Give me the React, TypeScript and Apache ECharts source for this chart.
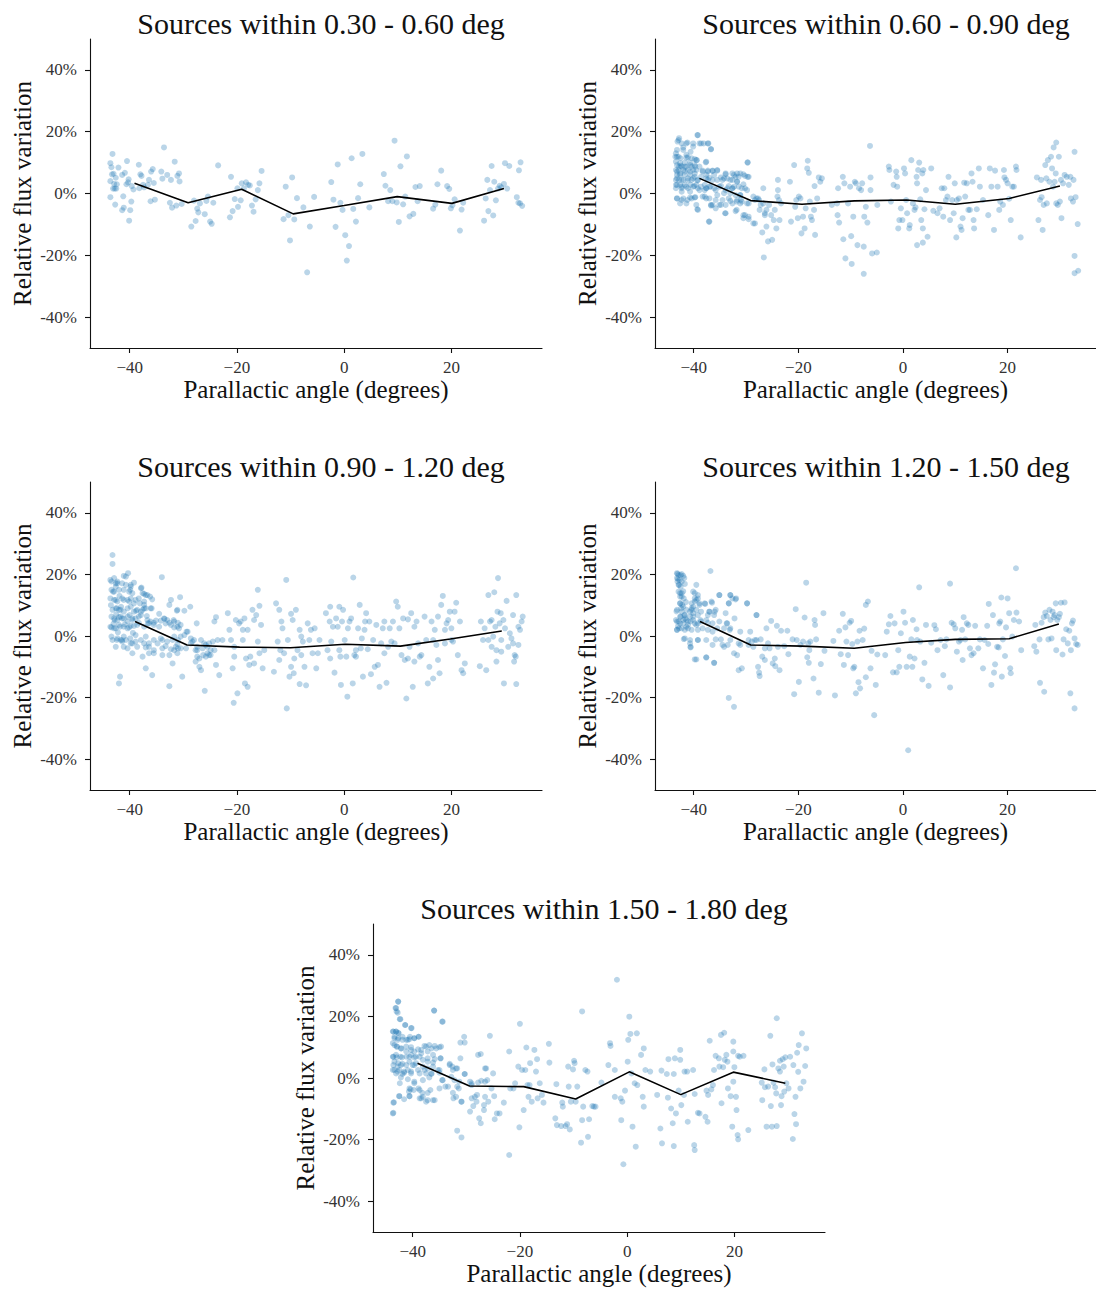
import React, { useEffect, useRef } from "react";
import * as echarts from "echarts";

const panelTitles = [
  "Sources within 0.30 - 0.60 deg",
  "Sources within 0.60 - 0.90 deg",
  "Sources within 0.90 - 1.20 deg",
  "Sources within 1.20 - 1.50 deg",
  "Sources within 1.50 - 1.80 deg",
];

const xTicks = [-40, -20, 0, 20];
const yTicks = [-40, -20, 0, 20, 40];
const xAxisName = "Parallactic angle (degrees)";
const yAxisName = "Relative flux variation";

// binned mean lines
const line1X = [-39.1, -29.1, -19.1, -9.5, 0, 9.9, 20.1, 29.8];
const line1Y = [3.3, -3.0, 1.4, -6.6, -3.9, -1.0, -3.2, 1.6];
const line2X = [-38.9, -29.1, -19.3, -9.3, 0.7, 10, 20.3, 30];
const line2Y = [4.9, -2.3, -3.5, -2.4, -2.1, -3.5, -1.6, 2.4];
const line3X = [-39, -29.3, -19.5, -10, 0.2, 10.5, 19.8, 29.4];
const line3Y = [4.7, -2.9, -3.6, -3.8, -2.7, -3.3, -1.0, 1.6];
const line4X = [-38.8, -29.1, -19.3, -9.3, 0.5, 10, 20.3, 29.8];
const line4Y = [4.7, -2.9, -3.3, -4.0, -2.1, -1.1, -0.9, 3.9];
const line5X = [-39.1, -29.4, -19.3, -9.6, 0.4, 10, 19.8, 29.5];
const line5Y = [4.8, -2.6, -2.8, -6.8, 2.0, -5.4, 1.9, -1.7];

// scatter points [parallactic angle, relative variation %]
const scatter1 = [
  [-43.6,9.8],[-43.2,12.8],[-43.4,8.5],[-43.6,4.0],[-43.3,6.2],[-43.0,6.4],[-43.1,1.6],[-42.8,1.6],[-42.5,1.6],[-42.9,3.1],
  [-42.4,3.0],[-42.6,5.1],[-42.1,8.4],[-43.6,-1.2],[-42.7,-3.6],[-41.4,6.0],[-41.2,-0.9],[-40.9,6.7],[-41.1,-4.6],[-41.4,-5.4],
  [-40.5,10.5],[-40.6,3.0],[-40.2,4.6],[-40.3,3.6],[-40.1,-8.8],[-39.9,-5.4],[-39.7,-2.6],[-39.6,2.4],[-39.3,1.3],[-38.3,9.3],
  [-38.2,1.7],[-38.0,6.2],[-37.8,5.7],[-37.5,2.8],[-37.3,2.0],[-36.6,2.8],[-36.4,4.4],[-36.1,-2.5],[-36.0,7.1],[-35.7,7.9],
  [-35.5,3.4],[-35.3,-2.0],[-34.1,7.1],[-33.9,4.8],[-33.6,14.9],[-33.0,6.0],[-32.5,-3.0],[-32.3,4.4],[-32.1,-4.6],[-31.6,10.3],
  [-31.3,-3.9],[-31.1,5.7],[-30.8,6.5],[-30.7,3.9],[-30.3,-3.4],[-28.5,-10.7],[-28.0,-2.3],[-27.7,-8.9],[-27.4,-4.9],[-27.2,-6.1],
  [-26.9,-3.2],[-26.0,-6.7],[-25.7,-2.4],[-25.4,-1.0],[-25.0,-9.1],[-24.7,-9.8],[-24.4,-3.0],[-23.5,9.1],[-21.3,-7.7],[-21.1,5.4],
  [-20.8,-5.7],[-20.4,-1.8],[-19.9,1.7],[-19.8,-4.3],[-19.3,-2.2],[-19.1,3.3],[-18.7,1.7],[-18.3,3.6],[-17.9,2.8],[-17.6,2.6],
  [-17.2,-3.9],[-16.9,-5.9],[-16.5,-1.9],[-16.1,1.1],[-15.8,3.3],[-15.4,7.3],[-11.3,-8.3],[-10.9,2.2],[-10.4,-7.0],[-10.1,-15.2],
  [-9.7,5.2],[-9.3,-8.4],[-8.8,-1.5],[-7.6,-4.5],[-6.9,-25.5],[-6.4,-10.7],[-5.6,-1.1],[-2.4,3.7],[-2.0,-2.0],[-1.6,-10.8],
  [-1.2,9.4],[-0.7,-3.0],[-0.3,-5.3],[0.2,-13.5],[0.5,-21.7],[0.9,-17.0],[1.4,11.4],[1.7,-5.0],[2.2,-9.1],[2.6,-1.5],
  [3.0,3.0],[3.4,12.8],[4.7,-4.5],[7.4,6.3],[7.7,2.5],[8.2,-2.5],[8.6,1.1],[9.0,-2.5],[9.4,17.1],[9.8,-2.9],
  [10.2,-9.2],[10.5,8.8],[11.0,-3.5],[11.4,-1.0],[11.7,12.0],[12.2,-7.4],[12.9,-6.6],[13.3,2.1],[13.7,-2.5],[14.1,2.4],
  [16.6,-4.9],[17.0,-3.6],[17.4,3.0],[18.1,7.4],[19.2,2.4],[19.6,1.5],[19.9,-4.8],[20.2,-3.8],[20.6,-1.9],[21.6,-12.0],
  [21.9,-5.2],[22.2,-3.0],[26.1,-8.8],[26.4,-1.6],[26.7,4.4],[26.9,-5.7],[27.2,1.1],[27.5,8.9],[27.8,-7.1],[28.0,3.8],
  [28.3,-2.2],[28.7,1.6],[29.0,2.5],[29.3,2.0],[29.8,3.1],[30.0,9.8],[30.4,1.6],[30.8,8.9],[32.2,-1.2],[32.5,-3.0],
  [32.6,7.5],[32.9,10.1],[33.2,-4.0],[32.8,-3.2],
];

const scatter2 = [
  [-42.8,17.9],[-43.1,16.8],[-39.3,18.9],[-41.2,16.5],[-40.1,16.2],[-38.9,16.2],[-38.1,16.2],[-37.2,16.2],[-36.7,14.3],[-42.0,14.9],
  [-43.4,13.0],[-43.5,11.9],[-42.9,11.9],[-41.4,12.5],[-41.1,11.7],[-39.8,11.1],[-39.4,10.8],[-43.4,10.3],[-42.6,9.8],[-41.7,10.0],
  [-40.7,10.0],[-42.8,8.7],[-42.3,8.7],[-41.4,8.7],[-40.4,8.7],[-39.7,8.7],[-37.7,10.1],[-43.4,7.6],[-42.9,7.6],[-42.0,7.6],
  [-41.1,7.6],[-40.1,7.6],[-39.5,7.6],[-38.3,7.4],[-37.3,7.4],[-36.4,7.4],[-35.5,7.4],[-33.9,6.5],[-32.6,6.5],[-31.7,6.5],
  [-31.1,6.5],[-30.2,5.7],[-29.5,5.4],[-43.2,6.0],[-42.6,6.0],[-41.7,6.0],[-40.7,6.0],[-39.8,5.4],[-38.6,5.4],[-37.6,6.0],
  [-36.1,6.0],[-34.8,5.2],[-33.6,4.9],[-32.0,5.4],[-43.4,4.4],[-42.8,4.4],[-42.0,4.4],[-41.1,4.2],[-40.4,4.4],[-39.3,4.2],
  [-37.3,4.4],[-36.4,4.4],[-34.5,4.4],[-32.6,4.4],[-31.7,3.8],[-43.4,2.8],[-42.6,2.8],[-41.7,2.8],[-40.6,2.8],[-39.9,2.4],
  [-38.6,2.2],[-37.6,1.7],[-36.8,2.2],[-35.1,2.2],[-33.3,2.4],[-32.3,2.2],[-43.4,1.7],[-42.3,1.7],[-41.1,1.7],[-39.2,1.7],
  [-37.9,1.1],[-35.8,1.1],[-33.9,1.1],[-32.6,1.7],[-30.8,1.7],[-43.2,-1.6],[-42.3,-2.1],[-41.2,-2.1],[-40.4,-1.6],[-39.7,-1.2],
  [-38.3,-1.0],[-37.6,-1.6],[-36.7,-3.7],[-35.8,-4.8],[-34.8,-3.7],[-34.0,-6.4],[-32.6,-3.2],[-31.8,-5.3],[-31.0,-2.1],[-30.5,-7.0],
  [-29.7,10.0],[-39.3,-5.1],[-37.1,-9.1],[-30.5,-8.0],[-29.5,-7.5],[-29.8,1.1],[-31.1,-0.5],[-33.3,-1.6],[-31.8,-2.6],[-35.5,-0.5],
  [-28.6,-9.7],[-28.3,-2.1],[-28.0,-1.6],[-27.5,-2.1],[-27.2,-3.7],[-26.9,-12.6],[-26.6,-20.7],[-26.4,-6.4],[-26.1,-5.3],[-25.8,-15.5],
  [-25.6,-3.7],[-25.2,-7.0],[-25.0,-15.0],[-24.7,-8.6],[-24.5,-5.3],[-24.2,-11.3],[-23.9,4.4],[-23.9,1.1],[-23.6,-8.6],[-24.0,-1.0],
  [-23.7,-2.1],[-23.3,-3.2],[-21.6,3.8],[-21.4,-9.1],[-20.8,9.2],[-20.6,-4.3],[-20.4,-2.1],[-20.1,-8.0],[-19.9,-1.0],[-19.6,-1.6],
  [-19.4,-12.9],[-19.1,-7.5],[-18.8,-11.3],[-18.6,-4.8],[-18.3,8.1],[-18.2,10.6],[-18.0,6.7],[-17.8,-2.6],[-17.6,-7.5],[-17.4,-8.6],
  [-17.0,-5.3],[-16.9,2.4],[-16.8,-13.4],[-16.4,-1.6],[-16.1,5.2],[-15.8,3.8],[-15.5,4.9],
  [-13.6,-3.7],[-12.6,-3.2],[-12.5,-7.0],[-12.4,1.7],[-12.2,-9.4],[-11.5,5.4],[-11.4,-14.8],[-11.2,3.3],[-11.0,-21.0],[-10.5,-3.2],
  [-10.1,2.2],[-9.9,-13.8],[-9.8,-22.8],[-9.5,-7.5],[-9.2,3.8],[-9.0,3.3],[-8.7,-16.7],[-8.4,1.7],[-8.0,1.1],[-7.8,3.3],
  [-7.5,-17.2],[-7.4,-7.5],[-7.1,-4.3],[-6.8,-9.4],[-6.3,15.4],[-6.2,5.2],[-6.2,1.1],[-5.9,-19.4],[-5.0,-19.1],[-4.9,-3.7],
  [-7.5,-26.0],
  [-2.7,8.7],[-2.6,7.6],[-2.3,-2.6],[-1.8,2.8],[-1.3,7.1],[-1.2,5.4],[-1.1,2.2],[-0.9,-11.3],[-0.7,-8.6],[-0.4,-4.8],
  [-0.1,-8.6],[0.2,8.1],[0.4,6.5],[0.6,-2.1],[0.8,-6.4],[1.2,-11.3],[1.3,-10.2],[1.6,10.8],[1.9,-3.2],[2.2,-5.3],
  [2.4,-4.5],[2.6,5.4],[2.7,3.3],[2.9,7.6],[3.1,10.0],[3.3,-1.9],[3.5,-8.6],[3.7,6.5],[3.8,-11.3],[3.9,7.6],
  [4.1,-5.1],[4.4,1.1],[4.7,-14.0],[5.4,8.1],[5.8,-5.6],[6.6,-6.4],[7.0,-4.8],[7.4,1.7],[7.7,-7.5],[7.9,1.7],
  [8.2,-2.1],[8.5,-1.0],[2.7,-16.7],[3.8,-15.9],
  [8.7,5.4],[9.0,-8.6],[9.4,-2.1],[9.7,-6.4],[9.9,3.3],[10.2,-14.2],[10.3,-2.1],[10.7,-1.6],[11.0,-10.7],[11.2,-11.8],
  [11.4,-8.0],[11.7,3.5],[11.9,-1.0],[12.2,3.3],[12.5,-5.3],[12.8,-5.3],[13.1,6.5],[13.3,3.8],[13.5,-8.6],[13.6,-11.3],
  [14.1,-5.1],[14.5,8.1],[14.7,2.2],[15.3,-2.1],[16.3,-7.0],[16.6,8.1],[16.9,2.2],[17.4,-11.8],[17.6,7.4],[18.1,2.2],
  [18.4,-5.3],[18.6,-2.6],[19.1,-3.7],[19.3,7.6],[19.4,5.2],[19.7,4.4],[20.0,3.3],[20.3,-1.7],[20.6,-8.6],[20.9,2.2],
  [21.2,2.2],[21.6,8.7],[21.7,7.6],[22.5,-14.2],
  [25.6,5.2],[25.9,-8.6],[26.2,-2.1],[26.4,4.4],[26.7,-11.8],[26.9,-3.7],[27.2,9.2],[27.4,4.9],[27.7,10.8],[28.0,3.8],
  [28.3,11.9],[28.5,8.1],[28.7,2.2],[29.0,3.8],[29.2,6.5],[29.3,16.5],[29.6,-3.7],[29.8,11.9],[30.0,-2.6],[30.2,4.4],
  [30.3,-8.0],[30.6,3.3],[30.9,6.0],[31.3,5.4],[31.7,2.8],[32.0,5.4],[32.1,-1.6],[32.5,-2.6],[32.6,4.4],[32.8,13.5],
  [32.8,-20.2],[32.8,-25.8],[33.4,-9.9],[33.5,-25.0],[33.0,-1.2],[27.5,-3.2],[29.3,-3.2],[26.5,-1.2],[28.8,14.9],
];

const scatter2Dense = [
  [-39.2,18.9],[-42.9,17.3],[-42.3,16.2],[-41.4,16.2],[-40.1,15.2],[-38.6,16.2],[-37.3,16.2],[-36.7,14.4],[-43.2,14.1],[-42.0,14.1],
  [-40.6,13.5],[-43.2,11.9],[-42.5,11.4],[-41.4,11.6],[-40.4,11.4],[-39.5,10.8],[-43.2,9.2],[-42.5,9.0],[-41.7,8.7],[-40.7,9.2],
  [-39.8,9.2],[-38.9,8.7],[-37.6,10.3],[-29.7,10.1],[-43.2,7.1],[-42.6,6.5],[-41.7,7.1],[-40.7,7.1],[-39.8,6.5],[-38.3,7.1],
  [-37.3,7.1],[-36.4,7.3],[-35.5,7.6],[-33.9,6.2],[-32.3,6.0],[-31.4,5.4],[-30.5,6.2],[-29.7,5.4],[-43.2,4.9],[-42.3,4.4],
  [-41.1,4.9],[-40.1,4.9],[-39.2,4.4],[-37.6,4.9],[-37.0,5.1],[-35.5,4.4],[-34.2,4.9],[-33.0,4.4],[-31.7,3.8],[-30.5,3.0],
  [-43.2,2.8],[-42.3,2.2],[-41.4,2.2],[-40.1,2.2],[-39.5,2.8],[-37.9,2.8],[-37.0,2.2],[-36.1,1.7],[-34.8,2.5],[-33.6,1.7],
  [-32.6,1.7],[-31.4,2.2],[-30.2,1.7],[-26.7,1.7],[-42.3,0.6],[-40.7,0.6],[-38.9,1.1],[-37.6,1.7],[-34.2,0.1],[-33.0,0.1],
  [-32.0,-0.5],[-31.1,-0.5],[-43.2,-1.6],[-42.0,-1.6],[-40.7,-1.3],[-39.8,-1.3],[-37.9,-1.0],[-37.0,-1.6],[-35.8,-2.1],[-34.5,-2.1],
  [-33.0,-2.4],[-31.7,-2.1],[-30.8,-2.6],[-29.8,-3.2],[-28.6,-1.0],[-27.7,-1.6],[-42.6,-3.2],[-41.4,-3.2],[-39.5,-3.7],[-36.4,-3.7],
  [-35.1,-3.7],[-33.9,-3.7],[-31.1,-3.2],[-29.5,-3.2],[-26.7,-3.2],[-39.2,-5.3],[-36.7,-3.9],[-33.9,-6.4],[-32.0,-5.7],[-30.2,-7.0],
  [-29.5,-8.3],[-37.0,-9.1],[-28.3,-9.7],[-27.4,-5.3],[-26.4,-7.0],[-26.1,-10.7],
];

const scatter3 = [
  [-43.2,26.3],[-43.2,23.4],[-41.8,-13.2],[-42.0,-15.4],[-40.3,20.4],[-40.7,19.3],[-42.9,18.8],[-43.6,18.2],[-42.6,17.1],[-42.3,17.7],
  [-41.4,17.1],[-40.7,16.6],[-39.8,16.0],[-39.2,17.3],[-37.9,15.5],[-43.4,15.0],[-42.9,14.4],[-42.0,15.0],[-41.1,15.0],[-40.1,14.4],
  [-39.5,13.9],[-37.6,13.9],[-37.0,13.3],[-36.2,12.8],[-35.8,11.9],[-43.6,12.2],[-42.9,11.7],[-42.3,11.2],[-41.4,12.2],[-40.4,11.7],
  [-39.8,12.2],[-38.9,11.7],[-38.3,12.2],[-37.3,11.2],[-32.3,11.7],[-30.6,12.6],[-34.0,19.1],[-43.2,8.5],[-42.6,9.0],[-42.0,8.5],
  [-41.1,7.9],[-40.4,9.0],[-39.8,9.5],[-39.2,7.9],[-37.6,8.5],[-37.0,9.0],[-36.1,9.0],[-32.6,10.1],[-31.1,8.5],[-29.8,8.2],
  [-28.7,9.5],[-43.4,6.3],[-42.9,5.7],[-42.3,5.2],[-41.7,6.3],[-41.1,5.7],[-40.4,4.7],[-39.5,5.2],[-38.9,5.7],[-38.3,6.3],
  [-36.7,5.2],[-36.1,4.7],[-35.1,5.0],[-33.6,5.7],[-33.0,5.2],[-31.7,4.7],[-31.1,3.0],[-30.5,3.6],[-43.6,3.0],[-42.9,2.5],
  [-42.0,3.6],[-41.1,3.0],[-40.4,2.5],[-39.8,3.3],[-38.6,3.6],[-37.3,3.0],[-36.4,4.1],[-35.5,3.6],[-34.5,3.0],[-33.3,4.1],
  [-32.3,3.6],[-30.8,2.5],[-29.4,1.4],[-43.2,-1.3],[-42.4,-1.3],[-41.7,-1.3],[-40.7,-1.3],[-39.8,-2.4],[-38.9,-1.8],[-37.9,-1.3],
  [-37.3,-2.4],[-36.4,-3.5],[-35.5,-1.3],[-34.8,-2.4],[-33.9,-1.3],[-33.0,-1.8],[-32.0,-1.3],[-31.4,-3.5],[-30.5,-4.0],[-42.6,-3.5],
  [-41.1,-3.5],[-39.5,-5.6],[-37.6,-6.7],[-36.4,-5.6],[-35.5,-5.6],[-33.9,-6.2],[-32.6,-6.2],[-32.0,-8.9],[-31.1,-5.6],[-30.2,-13.2],
  [-32.6,-16.3],[-37.0,-10.5],[-35.8,-12.7],[-41.4,-1.3],[-30.5,-0.2],
  [-43.0,4.0],[-42.5,7.0],[-42.2,1.2],[-41.6,9.5],[-40.9,3.8],[-40.0,6.8],[-39.4,1.0],[-38.8,8.2],[-43.5,10.0],[-41.9,13.0],
  [-28.6,-2.4],[-28.0,-1.3],[-27.7,-4.6],[-27.4,-6.7],[-27.0,-10.0],[-26.7,-11.1],[-26.4,-4.0],[-26.1,-2.4],[-25.8,-6.7],[-25.5,-3.5],
  [-25.2,-6.2],[-24.9,-4.6],[-24.5,-1.8],[-24.2,-4.6],[-23.9,-9.4],[-23.6,-1.3],[-27.5,4.1],[-26.0,-17.8],[-23.3,-12.7],[-22.7,-1.3],
  [-24.2,4.7],[-23.9,6.1],[-21.7,7.4],[-21.4,2.0],[-21.1,-1.3],[-20.8,-10.5],[-20.5,-6.7],[-20.2,5.2],[-19.9,-18.6],[-19.6,4.1],
  [-19.3,4.7],[-18.9,-1.3],[-18.6,5.7],[-18.5,-15.4],[-18.3,-7.3],[-18.0,-16.5],[-17.7,-9.4],[-17.5,-6.7],[-17.1,8.5],[-16.8,5.2],
  [-16.4,6.8],[-16.1,15.0],[-16.1,-1.8],[-15.8,9.8],[-15.5,3.6],[-15.2,-10.5],[-14.9,-4.6],[-18.0,2.0],[-18.9,2.0],[-20.6,-21.7],
  [-20.5,-3.5],[-15.8,-5.6],[-16.8,-8.9],
  [-13.1,-11.6],[-12.7,10.6],[-12.4,-1.8],[-12.1,8.5],[-11.9,-4.6],[-11.7,4.7],[-11.5,2.5],[-11.2,-5.6],[-10.8,18.2],[-10.7,-23.5],
  [-10.5,-1.3],[-10.2,-13.2],[-9.9,7.2],[-9.6,5.2],[-9.4,-12.1],[-9.0,8.5],[-8.7,-4.6],[-8.3,2.0],[-8.3,-15.6],[-8.0,-6.2],
  [-7.7,-1.8],[-7.4,-10.0],[-7.1,-16.0],[-6.8,4.1],[-6.5,-1.3],[-6.2,2.0],[-5.9,-5.6],[-5.5,2.5],[-5.2,-10.5],[-4.9,-5.6],
  [-4.6,-1.3],[-12.1,-7.8],[-9.3,-7.3],[-9.9,-10.0],[-8.0,-0.2],
  [-3.4,7.4],[-3.1,-4.6],[-2.7,4.7],[-2.6,-7.3],[-2.4,-1.8],[-2.1,3.0],[-1.8,-11.9],[-1.5,5.7],[-1.2,3.0],[-0.9,9.5],
  [-0.7,-6.7],[-0.6,-15.9],[-0.4,4.7],[-0.2,8.5],[0.1,-1.3],[0.4,-6.7],[0.6,-19.7],[0.7,2.5],[1.0,4.7],[1.3,5.7],
  [1.6,-15.4],[1.7,19.0],[1.9,-6.2],[2.2,-6.7],[2.6,2.5],[2.9,10.1],[3.1,-4.0],[3.3,-0.8],[3.5,-13.2],[3.8,2.0],
  [4.1,7.4],[4.4,-4.3],[4.7,4.7],[5.0,-12.4],[5.4,-1.3],[5.7,-10.0],[6.0,3.6],[6.6,-16.5],[6.9,-2.4],[7.2,2.5],
  [7.5,4.7],[7.9,-15.2],[8.2,-3.5],[8.5,2.5],[8.8,-1.8],[-2.6,9.5],[-0.9,-4.6],[2.2,-4.6],[3.9,4.7],[6.3,-9.4],
  [7.5,-5.6],
  [9.1,4.7],[9.4,-2.4],[9.7,11.2],[10.0,9.5],[10.3,2.5],[10.7,-6.2],[11.0,5.7],[11.3,-7.8],[11.6,-20.3],[11.9,-7.3],
  [12.2,-3.5],[12.5,7.4],[12.8,-16.5],[13.1,-8.3],[13.5,4.7],[13.8,-2.4],[14.1,-6.7],[14.4,-6.2],[15.0,6.3],[15.3,-1.3],
  [15.6,-15.4],[15.9,-10.0],[16.3,4.7],[16.6,-13.8],[16.9,2.0],[17.2,-2.9],[17.5,-7.8],[17.8,-12.1],[18.1,10.1],[18.4,13.0],
  [18.8,-2.4],[19.1,4.1],[19.4,5.2],[19.7,7.9],[20.0,2.5],[20.3,-1.8],[20.6,7.9],[20.9,10.8],[21.2,-6.2],[21.6,4.7],
  [21.9,-11.1],[22.2,-12.1],[22.5,-8.9],[18.8,2.0],[17.5,6.3],[16.6,-1.3],[11.9,5.4],[13.1,3.0],[20.0,-1.3],
  [25.3,-9.8],[25.5,4.7],[25.9,-1.3],[26.2,2.5],[26.5,-11.1],[26.9,13.3],[27.2,4.7],[27.5,-3.5],[27.8,-0.2],[28.0,14.2],
  [28.2,3.0],[28.4,-8.3],[28.6,7.9],[28.7,18.8],[29.0,4.1],[29.2,7.4],[29.3,-5.1],[29.7,5.2],[29.8,-15.4],[30.0,2.5],
  [30.3,11.4],[30.6,-3.5],[30.9,0.9],[31.2,-0.8],[31.5,-2.4],[31.7,-8.3],[31.8,-6.2],[32.0,-6.7],[32.1,13.3],[32.1,-15.6],
  [32.5,3.0],[32.8,2.0],[33.1,4.7],[33.3,6.3],[32.5,-2.9],[31.5,6.8],[27.5,5.2],[28.4,-4.6],[29.3,-1.3],[26.9,-1.3],
];

const scatter3Dense = [
  [-41.1,19.5],[-43.4,17.7],[-42.3,17.1],[-42.6,16.0],[-39.8,16.6],[-37.8,15.7],[-43.1,14.4],[-39.9,15.0],[-37.3,13.7],[-36.7,13.3],
  [-42.6,11.7],[-41.1,11.7],[-40.1,11.2],[-39.2,10.6],[-38.1,10.6],[-37.3,10.1],[-42.4,9.0],[-41.7,8.5],[-38.6,8.5],[-37.9,7.9],
  [-37.3,9.0],[-35.9,9.0],[-31.2,8.2],[-42.8,5.2],[-42.0,6.1],[-41.4,5.7],[-40.4,6.3],[-39.5,5.7],[-37.9,6.8],[-36.8,6.5],
  [-34.5,7.2],[-33.5,5.6],[-31.8,5.2],[-31.0,4.3],[-43.4,2.8],[-42.6,2.5],[-41.8,3.0],[-40.1,2.8],[-39.2,3.3],[-38.3,4.3],
  [-36.6,4.1],[-35.5,4.3],[-34.2,5.0],[-32.6,4.3],[-31.7,2.8],[-29.2,1.4],[-43.4,-0.2],[-42.3,-0.8],[-41.1,-0.2],[-39.9,-0.8],
  [-38.9,0.3],[-37.0,-0.2],[-34.2,-0.8],[-31.7,-0.2],[-31.0,-1.3],[-29.8,0.3],[-28.6,-0.8],[-41.4,-1.8],[-39.5,-2.4],[-36.4,-2.4],
  [-33.3,-3.3],[-31.1,-2.6],[-32.3,-4.3],[-31.0,-4.0],[-29.5,-4.0],[-27.4,-3.5],[-40.4,-4.0],[-38.6,-3.5],[-37.0,-3.7],[-35.5,-4.6],
  [-33.9,-4.0],[-31.7,-4.6],[-28.3,-1.8],[-26.7,-1.3],[-25.8,-2.9],[-26.3,-6.2],[-25.5,-5.6],[-27.4,-4.6],[-24.9,-6.2],[-27.0,-7.3],
  [-27.7,-8.3],[-25.2,-2.4],
];

const scatter4 = [
  [-43.2,20.4],[-42.9,19.8],[-42.3,20.1],[-41.8,18.8],[-43.1,17.7],[-42.8,16.6],[-42.6,13.9],[-42.3,12.8],[-42.6,10.6],[-42.4,9.0],
  [-42.2,10.1],[-43.4,5.2],[-42.9,4.7],[-43.2,2.0],[-42.8,2.5],[-42.0,4.1],[-41.4,5.2],[-41.1,3.6],[-40.6,4.7],[-40.1,6.3],
  [-39.8,4.1],[-39.5,3.6],[-41.7,2.0],[-41.1,2.5],[-40.4,8.5],[-40.1,9.5],[-39.5,11.7],[-39.8,13.9],[-38.9,10.6],[-39.2,12.2],
  [-40.7,7.9],[-41.8,6.8],[-41.6,5.7],[-41.9,-1.0],[-40.7,-2.4],[-40.6,-3.5],[-39.5,-7.6],[-39.2,-1.3],[-38.7,5.2],[-37.8,10.4],
  [-37.6,-6.9],[-37.3,4.3],[-37.0,7.9],[-36.8,21.1],[-36.6,11.2],[-36.4,1.4],[-36.1,-8.7],[-36.0,7.9],[-35.8,-1.1],[-35.1,13.3],
  [-34.8,-1.1],[-34.2,-3.5],[-33.7,4.1],[-33.5,-2.9],[-33.3,10.6],[-33.0,13.3],[-33.1,2.0],[-32.6,12.2],[-32.2,5.7],[-32.3,-5.6],
  [-32.0,11.9],[-31.7,-6.2],[-33.3,-20.1],[-32.3,-23.0],[-31.4,-11.1],[-31.1,-2.9],[-30.8,-10.5],[-29.8,10.6],[-29.5,-1.3],[-28.9,-1.8],
  [-28.6,-3.5],[-28.3,-1.3],[-43.0,3.2],[-42.5,6.2],[-43.3,8.0],[-42.0,14.5],[-43.0,18.5],[-41.5,11.0],
  [-28.0,6.8],[-27.7,-10.0],[-27.5,-11.9],[-27.4,-13.0],[-27.2,-1.1],[-26.9,-6.7],[-26.4,-7.8],[-26.1,2.5],[-25.8,-2.4],[-25.5,-4.0],
  [-25.2,4.9],[-24.9,-8.9],[-24.5,-7.3],[-24.4,-9.8],[-24.1,3.3],[-23.9,-3.5],[-23.6,-11.1],[-23.3,1.7],[-22.1,1.7],[-22.7,-3.3],
  [-21.9,-5.9],[-21.1,-1.1],[-20.8,-18.9],[-20.5,8.7],[-20.3,-1.3],[-19.9,-14.9],[-19.6,-2.9],[-19.1,-1.8],[-18.8,6.0],[-18.5,17.3],
  [-18.3,-6.9],[-18.1,-2.4],[-18.0,-8.7],[-17.9,-4.6],[-17.7,-1.8],[-17.1,-13.8],[-16.9,5.2],[-16.8,3.6],[-16.6,-1.1],[-16.1,-18.4],
  [-15.7,-9.1],[-15.2,7.4],[-15.0,-4.8],
  [-13.3,-1.6],[-13.0,-19.3],[-12.2,1.7],[-11.9,-5.9],[-11.5,7.2],[-11.3,-9.4],[-11.0,2.8],[-10.8,-1.8],[-10.5,-6.2],[-10.2,4.3],
  [-9.9,4.9],[-9.7,-2.6],[-9.5,-10.5],[-9.3,-10.0],[-9.0,-18.6],[-8.7,-1.8],[-8.5,-15.0],[-8.3,1.7],[-8.2,-17.0],[-7.7,-1.3],
  [-7.4,2.4],[-7.1,10.1],[-7.1,-13.4],[-6.7,11.2],[-6.2,-10.5],[-6.0,-4.8],[-5.5,-25.7],[-5.2,-15.9],[-4.9,-6.0],
  [-3.4,-6.2],[-3.1,1.4],[-2.7,3.8],[-2.4,6.5],[-1.9,-11.8],[-1.6,4.1],[-1.2,-11.8],[-0.9,-4.6],[-0.7,-10.0],[-0.4,0.9],
  [0.1,7.9],[0.4,4.3],[0.7,-10.0],[1.0,-37.1],[1.3,-6.7],[1.6,-1.1],[1.8,-10.0],[1.9,5.2],[2.2,-7.3],[2.6,2.2],
  [2.7,-1.3],[3.1,15.8],[3.3,-1.8],[3.7,-14.1],[4.1,-8.7],[4.4,3.6],[4.9,-16.2],[5.4,-2.2],[6.0,3.5],[6.3,2.2],
  [6.6,-4.6],[7.2,-1.3],[7.7,-12.7],[8.0,-3.3],[8.3,-1.1],[9.0,17.0],[9.0,-16.7],[9.3,4.3],[9.7,3.8],[10.0,2.5],
  [10.3,-5.1],[10.7,-1.8],[11.0,-1.3],[11.3,2.0],[11.4,-7.8],[11.6,6.1],[11.9,-1.1],
  [12.2,4.1],[12.5,3.6],[12.8,-4.0],[13.1,-6.2],[13.5,-5.6],[13.8,3.3],[14.4,-4.0],[14.7,-1.1],[15.3,-10.5],[15.6,-1.3],
  [16.1,3.3],[16.3,-2.6],[16.4,10.4],[16.9,-15.9],[17.2,6.8],[17.4,-11.9],[17.6,-9.2],[18.0,-3.5],[18.3,-3.7],[18.4,4.1],
  [18.6,4.7],[18.8,12.5],[18.9,-13.2],[19.1,-1.1],[19.5,-6.5],[19.7,2.8],[20.0,12.2],[20.3,7.4],[20.5,-10.5],[20.6,-12.1],
  [20.9,-0.2],[21.2,5.2],[21.6,22.0],[21.7,7.6],[22.2,4.7],[22.6,-4.6],
  [25.1,-3.3],[25.3,3.6],[25.5,-5.1],[26.1,-1.1],[26.2,-15.2],[26.5,4.3],[26.9,6.1],[27.0,-18.1],[27.2,7.6],[27.5,6.5],
  [27.8,-1.1],[28.0,8.5],[28.2,5.2],[28.4,-0.8],[28.6,7.9],[28.8,6.1],[29.0,6.8],[29.2,10.6],[29.3,-4.6],[29.5,5.2],
  [29.8,6.1],[30.0,7.2],[30.2,10.8],[30.5,-6.0],[30.7,-1.1],[30.9,10.9],[31.2,2.2],[31.5,-2.4],[31.8,1.7],[32.1,-4.6],
  [32.3,4.1],[32.5,5.0],[32.8,-23.5],[32.8,-0.8],[33.1,-2.6],[33.4,-2.9],[32.0,-18.6],
];

const scatter4Dense = [
  [-43.1,20.2],[-42.5,19.8],[-42.0,19.5],[-43.2,18.8],[-42.7,18.2],[-42.3,17.7],[-42.9,16.6],[-42.5,16.0],[-41.7,16.9],[-42.9,14.4],
  [-42.3,13.9],[-42.6,12.8],[-41.9,12.2],[-40.1,14.4],[-39.5,16.6],[-39.2,13.3],[-39.8,12.2],[-35.1,13.3],[-33.0,13.3],[-31.9,12.2],
  [-42.6,10.6],[-42.0,9.5],[-40.4,10.6],[-39.8,11.2],[-38.9,10.1],[-37.9,10.6],[-36.5,10.8],[-33.3,10.6],[-29.8,10.6],[-43.2,8.5],
  [-42.3,7.9],[-41.4,8.5],[-40.4,9.0],[-39.5,8.5],[-38.6,7.9],[-37.0,7.9],[-35.8,8.5],[-42.6,6.3],[-41.7,6.8],[-40.7,6.3],
  [-40.1,7.4],[-39.2,6.8],[-37.3,6.8],[-36.1,6.8],[-33.9,7.4],[-28.0,6.8],[-43.2,4.7],[-42.6,4.1],[-42.0,5.2],[-41.1,4.7],
  [-40.1,5.2],[-39.2,4.1],[-38.6,4.7],[-37.6,5.2],[-36.4,4.1],[-35.1,4.7],[-33.6,4.1],[-43.2,2.0],[-42.3,2.5],[-41.4,3.0],
  [-40.4,2.0],[-39.2,2.0],[-38.3,2.5],[-37.3,2.0],[-35.5,2.5],[-34.2,2.5],[-33.0,2.5],[-31.1,1.4],[-29.2,1.4],[-41.7,-0.8],
  [-40.7,-1.3],[-39.2,-1.3],[-37.6,-1.3],[-36.4,-2.9],[-34.5,-2.9],[-33.0,-1.3],[-31.4,-2.4],[-29.5,-2.9],[-28.0,-1.3],[-26.4,-4.0],
  [-40.6,-3.7],[-39.8,-7.6],[-37.6,-7.0],[-36.1,-8.7],
];

const scatter5 = [
  [-42.7,24.8],[-43.2,22.7],[-43.0,21.6],[-42.4,19.1],[-41.4,17.2],[-40.2,16.2],[-43.6,15.1],[-43.1,15.1],[-42.6,14.5],[-41.9,12.4],
  [-43.4,12.9],[-42.8,12.4],[-40.9,12.4],[-40.5,13.4],[-39.7,12.9],[-38.9,13.4],[-36.0,21.9],[-34.4,18.3],[-43.7,11.3],[-43.0,10.2],
  [-42.2,9.6],[-41.2,8.6],[-40.3,9.1],[-39.7,8.6],[-38.4,9.1],[-37.5,10.2],[-36.5,9.6],[-35.6,9.6],[-34.7,10.2],[-43.6,6.9],
  [-43.0,6.7],[-42.0,6.7],[-40.6,6.9],[-39.7,6.7],[-38.7,6.9],[-37.2,6.4],[-35.9,6.1],[-34.8,6.4],[-43.6,4.2],[-42.8,3.7],
  [-42.2,4.2],[-41.2,4.2],[-40.0,4.2],[-39.4,4.8],[-38.1,3.7],[-37.2,3.1],[-36.2,3.7],[-35.0,2.6],[-43.4,2.6],[-42.5,2.6],
  [-41.6,2.1],[-40.3,1.5],[-38.7,1.5],[-37.5,1.5],[-36.5,1.5],[-35.3,2.6],[-43.1,1.5],[-41.9,1.3],[-40.9,2.6],[-42.4,-1.7],
  [-39.7,-1.7],[-40.6,-3.4],[-40.7,-4.4],[-38.9,-3.4],[-38.2,-4.8],[-36.7,-3.9],[-42.5,-5.9],[-41.6,-6.9],[-40.6,-5.9],[-38.7,-6.6],
  [-38.1,-6.1],[-37.5,-7.7],[-36.2,-7.2],[-43.5,-7.9],[-43.6,-11.3],[-34.5,-0.7],[-33.9,-2.8],[-33.1,4.6],[-32.6,3.7],[-32.2,-0.7],
  [-31.7,3.1],[-31.4,-3.4],[-32.5,-4.8],[-32.4,-6.6],[-31.1,6.4],[-30.3,1.3],[-30.3,11.5],[-30.9,-7.7],[-31.7,-17.1],[-30.9,-19.3],
  [-29.3,-1.2],[-29.0,-2.3],[-28.7,-9.1],[-28.4,-6.1],[-28.0,-5.5],[-27.6,-13.1],[-27.3,-14.7],[-27.3,7.8],[-27.2,-0.9],[-26.7,-10.4],
  [-26.5,-6.1],[-26.3,3.1],[-26.1,-0.7],[-25.9,-7.7],[-25.6,13.7],[-25.3,-3.4],[-25.0,1.5],[-24.8,-5.9],[-24.7,-13.4],[-24.3,-11.5],
  [-23.8,-11.5],[-23.0,-8.0],[-22.0,8.6],[-22.0,-25.0],[-21.8,-3.4],[-21.2,-3.4],[-20.9,-1.7],[-20.3,3.7],[-20.1,-16.0],[-20.0,17.6],
  [-19.6,2.6],[-19.3,-10.4],[-19.0,2.6],[-18.8,9.9],[-18.6,-2.3],[-18.4,-6.1],[-18.2,-2.3],[-18.1,4.8],[-17.8,-7.7],[-17.3,9.1],
  [-17.0,2.1],[-16.8,6.1],[-16.7,-6.6],[-16.3,-1.7],[-15.9,-5.5],[-15.6,-8.0],[-14.6,11.1],[-14.5,5.0],
  [-13.4,-13.1],[-13.2,-2.0],[-13.1,-15.3],[-12.3,-15.6],[-12.1,-8.0],[-12.0,-9.3],[-11.5,-15.6],[-11.2,-15.0],[-11.0,3.7],[-10.9,-2.8],
  [-10.7,-16.7],[-10.5,-7.7],[-10.1,2.8],[-9.9,5.6],[-9.8,4.8],[-9.6,-7.7],[-9.3,-2.8],[-8.6,-21.0],[-8.4,21.6],[-8.4,-13.7],
  [-8.2,-9.3],[-7.8,2.6],[-7.4,2.1],[-7.3,-19.1],[-7.1,-13.4],[-6.5,-9.1],[-6.2,-9.3],[-5.9,-9.3],[-4.8,-1.5],[-3.5,4.2],
  [-3.2,11.3],[-3.1,10.4],[-2.3,2.6],[-2.3,-6.1],[-1.9,31.9],
  [-1.2,-6.6],[-1.1,-13.7],[-0.9,-7.7],[-0.7,-28.0],[-0.4,-4.1],[0.1,5.3],[0.2,12.4],[0.4,19.9],[0.6,14.3],[0.8,1.5],
  [1.0,-15.8],[1.4,-1.7],[1.6,-22.3],[1.8,14.5],[1.9,-2.3],[2.6,7.5],[2.9,-6.1],[3.1,9.6],[3.1,-9.3],[3.4,2.6],
  [4.3,2.1],[5.6,-5.5],[6.2,-16.4],[6.4,2.4],[6.5,-21.2],[7.4,1.3],[7.6,-6.4],[7.7,6.1],[8.2,-9.9],[8.5,-14.7],
  [8.7,1.3],[8.7,-22.1],[8.9,6.4],[9.1,-11.5],[9.6,-4.1],[9.9,9.1],[9.9,5.9],[10.1,-8.8],[10.6,-5.5],[10.7,2.1],
  [11.2,2.1],[11.3,-14.2],
  [12.3,2.6],[12.5,-21.8],[12.6,-5.2],[12.6,-23.4],[13.2,-11.3],[13.5,-11.5],[14.6,-12.6],[14.8,-4.1],[15.0,-14.2],[15.1,-5.5],
  [15.4,12.1],[15.7,-3.7],[16.0,-2.3],[16.2,2.6],[16.5,7.2],[17.1,6.4],[17.2,3.7],[17.5,14.0],[17.6,-8.2],[17.9,3.5],
  [18.1,14.7],[18.2,5.9],[18.5,7.5],[18.7,5.3],[18.8,-3.4],[19.3,-5.9],[19.6,-15.8],[19.8,11.8],[19.8,8.6],[19.8,-1.2],
  [20.0,3.5],[20.3,-6.1],[20.4,-10.4],[20.6,-18.5],[20.7,-19.9],[20.7,7.2],[21.0,6.9],[21.7,7.2],[22.6,-16.9],
  [25.1,-1.5],[25.2,-7.2],[25.6,2.8],[25.7,-3.0],[26.0,-15.8],[26.3,-2.8],[26.7,13.7],[26.8,-9.1],[27.0,-15.8],[27.1,4.4],
  [27.3,-1.5],[27.6,-3.0],[27.8,-5.0],[27.9,-15.6],[27.9,19.4],[28.2,3.1],[28.5,2.1],[28.5,5.6],[28.7,-8.8],[28.8,-5.9],
  [29.0,6.1],[29.2,3.7],[29.3,-4.4],[29.5,6.7],[29.7,-1.7],[30.1,-3.4],[30.4,6.9],[30.9,-19.8],[31.0,4.2],[31.2,-11.7],
  [31.4,-6.1],[31.5,-15.0],[31.7,8.2],[31.9,2.0],[32.0,10.7],[32.3,-3.4],[32.6,14.5],[32.9,-1.2],[33.2,3.9],[33.4,9.6],
];

const scatter5Dense = [
  [-42.7,24.8],[-43.1,22.7],[-42.8,21.2],[-42.3,19.1],[-41.4,17.2],[-40.3,16.2],[-36.0,21.9],[-34.5,18.3],[-43.7,15.1],[-43.1,15.1],
  [-42.7,14.7],[-43.4,13.4],[-42.7,12.9],[-41.9,13.4],[-41.2,12.4],[-40.6,12.6],[-39.7,12.9],[-38.9,13.4],[-43.4,10.7],[-42.9,10.2],
  [-42.1,9.6],[-41.2,10.2],[-40.3,10.0],[-39.0,9.3],[-37.8,10.4],[-36.9,10.7],[-35.9,10.4],[-35.0,10.0],[-31.1,11.5],[-30.4,13.4],
  [-43.7,6.9],[-43.1,7.5],[-42.3,6.9],[-41.2,6.9],[-40.3,7.5],[-39.4,6.9],[-38.4,8.0],[-37.2,8.6],[-36.2,7.5],[-34.8,6.4],
  [-43.4,5.3],[-42.7,4.8],[-41.9,4.6],[-40.6,5.3],[-39.7,4.2],[-38.1,5.9],[-37.2,5.3],[-36.2,5.0],[-33.1,4.2],[-31.9,3.1],
  [-43.7,2.6],[-42.8,2.1],[-41.6,1.7],[-40.3,2.1],[-39.0,2.6],[-37.8,2.6],[-36.5,1.3],[-35.0,1.7],[-32.5,2.6],[-30.3,1.3],
  [-27.8,7.5],[-26.5,3.1],[-42.2,0.2],[-40.9,-0.4],[-39.7,-1.2],[-38.1,-0.7],[-36.9,0.2],[-34.4,-0.7],[-32.8,0.4],[-31.3,-1.2],
  [-29.0,-1.7],[-27.8,-1.5],[-26.5,-1.2],[-40.4,-3.7],[-38.7,-3.9],[-37.2,-4.8],[-35.0,-3.4],[-33.4,-2.8],[-31.7,-2.8],[-42.5,-5.9],
  [-40.6,-5.9],[-38.4,-6.6],[-37.2,-7.2],[-35.9,-7.2],[-31.9,-6.1],[-30.9,-7.7],[-29.0,-6.6],[-28.1,-7.7],[-26.7,-8.8],[-43.6,-8.0],
  [-43.7,-11.5],[-39.8,-3.9],[-29.3,-10.9],
];

const scatterSets = [
  scatter1,
  scatter2.concat(scatter2Dense),
  scatter3.concat(scatter3Dense),
  scatter4.concat(scatter4Dense),
  scatter5.concat(scatter5Dense),
];
const lineSets = [
  [line1X, line1Y],
  [line2X, line2Y],
  [line3X, line3Y],
  [line4X, line4Y],
  [line5X, line5Y],
];

// layout of the five panels (pixels)
const panels = [
  { left: 90, top: 39, width: 452, height: 309 },
  { left: 655, top: 39, width: 452, height: 309 },
  { left: 90, top: 482, width: 452, height: 308 },
  { left: 655, top: 482, width: 452, height: 308 },
  { left: 373, top: 924, width: 452, height: 308 },
];

const FONT = "Liberation Serif";

export default function App() {
  const ref = useRef<HTMLDivElement>(null);
  useEffect(() => {
    if (!ref.current) return;
    const chart = echarts.init(ref.current, undefined, { renderer: "svg" });
    const grid = panels.map((p) => ({ left: p.left, top: p.top, width: p.width, height: p.height, containLabel: false }));
    const title = panels.map((p, i) => ({
      text: panelTitles[i],
      left: p.left + 226,
      top: p.top - 36,
      textAlign: "center",
      textStyle: { fontFamily: FONT, fontSize: 30, fontWeight: "normal", color: "#111" },
    }));
    const xAxis = panels.map((p, i) => ({
      type: "value",
      gridIndex: i,
      min: -47.4,
      max: 36.9,
      name: xAxisName,
      nameLocation: "middle",
      nameGap: 29,
      nameTextStyle: { fontFamily: FONT, fontSize: 25, color: "#111" },
      axisLine: { show: true, onZero: false, lineStyle: { color: "#111", width: 1.1 } },
      axisTick: { show: true, length: 5, inside: false, customValues: xTicks, lineStyle: { color: "#111", width: 1.1 } },
      axisLabel: {
        customValues: xTicks,
        margin: 11,
        fontFamily: FONT,
        fontSize: 17,
        color: "#333",
        formatter: (v: number) => (v < 0 ? "\u2212" + Math.abs(v) : String(v)),
      },
      splitLine: { show: false },
    }));
    const yAxis = panels.map((p, i) => ({
      type: "value",
      gridIndex: i,
      min: -50,
      max: 50,
      name: yAxisName,
      nameLocation: "middle",
      nameGap: 55,
      nameTextStyle: { fontFamily: FONT, fontSize: 25, color: "#111" },
      axisLine: { show: true, onZero: false, lineStyle: { color: "#111", width: 1.1 } },
      axisTick: { show: true, length: 5, inside: false, customValues: yTicks, lineStyle: { color: "#111", width: 1.1 } },
      axisLabel: {
        customValues: yTicks,
        margin: 13,
        fontFamily: FONT,
        fontSize: 17,
        color: "#333",
        formatter: (v: number) => v + "%",
      },
      splitLine: { show: false },
    }));
    const series: any[] = [];
    scatterSets.forEach((pts, i) => {
      series.push({
        type: "scatter",
        xAxisIndex: i,
        yAxisIndex: i,
        data: pts,
        symbolSize: 6,
        itemStyle: { color: "rgba(31,119,180,0.38)" },
        silent: true,
      });
    });
    lineSets.forEach(([lx, ly], i) => {
      series.push({
        type: "line",
        xAxisIndex: i,
        yAxisIndex: i,
        data: lx.map((x, k) => [x, ly[k]]),
        showSymbol: false,
        lineStyle: { color: "#000", width: 1.6 },
        z: 5,
        silent: true,
      });
    });
    chart.setOption({ animation: false, title, grid, xAxis, yAxis, series });
    return () => chart.dispose();
  }, []);
  return (
    <div
      ref={ref}
      style={{ position: "absolute", left: 0, top: 0, width: 1096, height: 1290, background: "#fff" }}
    />
  );
}
